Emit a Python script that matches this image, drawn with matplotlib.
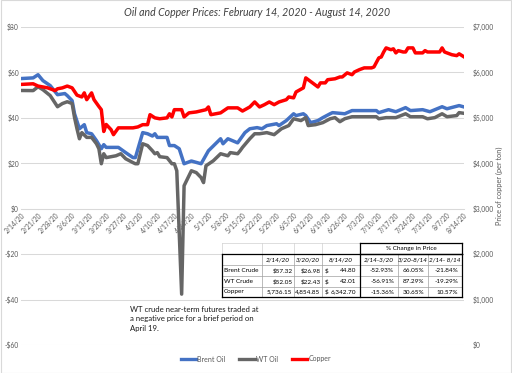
import matplotlib
matplotlib.use("Agg")
import matplotlib.pyplot as plt
from matplotlib.lines import Line2D
from matplotlib.patches import Rectangle
import pandas as pd

plt.rcParams['font.family'] = ['Lato', 'DejaVu Sans']

# Brent crude ($/bbl)
brent_dates = ["2/14", "2/19", "2/21", "2/23", "2/26", "2/29", "3/3", "3/4", "3/6", "3/7",
               "3/9", "3/11", "3/12", "3/14", "3/16", "3/18", "3/19", "3/20", "3/25", "3/28",
               "3/31", "4/1", "4/4", "4/6", "4/8", "4/9", "4/10", "4/14", "4/15", "4/17",
               "4/19", "4/21", "4/24", "4/28", "5/1", "5/6", "5/7", "5/9", "5/13", "5/16",
               "5/18", "5/21", "5/23", "5/25", "5/29", "5/30", "6/2", "6/5", "6/6", "6/9",
               "6/10", "6/12", "6/15", "6/17", "6/20", "6/21", "6/26", "6/29", "7/9", "7/10",
               "7/14", "7/17", "7/21", "7/23", "7/28", "7/31", "8/5", "8/7", "8/12", "8/14"]
brent = [57.3, 57.6, 59.0, 56.4, 54.2, 50.2, 50.7, 49.8, 47.6, 41.8,
         35.2, 37.0, 33.5, 33.0, 30.0, 26.4, 28.2, 27.0, 27.0, 24.7,
         22.5, 22.5, 33.5, 33.0, 32.0, 33.0, 31.4, 31.4, 27.8, 27.8,
         26.4, 19.8, 21.0, 19.8, 25.5, 30.8, 28.6, 30.8, 29.0, 33.5,
         35.2, 35.7, 35.2, 36.6, 37.4, 36.6, 38.8, 41.8, 41.0, 41.8,
         41.0, 37.9, 38.8, 40.1, 41.8, 42.3, 41.8, 43.2, 43.2, 42.3,
         43.6, 42.7, 44.5, 43.2, 43.6, 42.7, 44.9, 44.0, 45.4, 44.8]

# WT crude ($/bbl)
wti_dates = ["2/14", "2/19", "2/21", "2/23", "2/26", "2/29", "3/2", "3/4", "3/6", "3/7",
             "3/8", "3/9", "3/10", "3/12", "3/14", "3/16", "3/17", "3/18", "3/19", "3/20",
             "3/24", "3/26", "3/28", "3/31", "4/1", "4/2", "4/4", "4/6", "4/8", "4/9",
             "4/10", "4/11", "4/14", "4/16", "4/17", "4/18", "4/20", "4/21", "4/24", "4/26",
             "4/28", "4/29", "4/30", "5/3", "5/6", "5/9", "5/10", "5/13", "5/14", "5/15",
             "5/18", "5/20", "5/22", "5/25", "5/28", "5/31", "6/3", "6/5", "6/8", "6/10",
             "6/11", "6/14", "6/17", "6/20", "6/22", "6/24", "6/26", "6/29", "7/9", "7/10",
             "7/13", "7/17", "7/21", "7/23", "7/28", "7/30", "8/2", "8/5", "8/7", "8/11",
             "8/12", "8/14"]
wti = [52.05, 52.0, 53.7, 52.4, 49.8, 44.9, 46.3, 47.1, 46.3, 40.1,
       35.2, 30.8, 33.5, 31.4, 31.4, 28.6, 26.4, 19.8, 24.2, 22.5,
       23.3, 24.2, 22.0, 20.3, 19.8, 19.8, 28.6, 27.8, 25.5, 24.2,
       24.7, 22.9, 22.5, 19.8, 19.8, 16.7, -37.6, 10.1, 16.7, 15.9,
       13.7, 11.5, 18.9, 21.1, 24.2, 23.3, 24.7, 24.2, 25.5, 27.0,
       30.8, 33.0, 33.0, 33.5, 32.6, 35.2, 36.6, 39.6, 38.8, 40.1,
       36.6, 37.0, 37.9, 39.6, 40.1, 38.3, 39.6, 40.5, 40.5, 39.6,
       40.1, 40.1, 41.8, 40.5, 40.5, 39.6, 40.1, 41.8, 40.5, 41.0,
       42.3, 42.0]

# Copper ($/ton)
copper_dates = ["2/14", "2/19", "2/21", "2/23", "2/25", "2/28", "2/29", "3/2", "3/4", "3/6",
                "3/8", "3/10", "3/11", "3/12", "3/14", "3/15", "3/17", "3/18", "3/19", "3/20",
                "3/22", "3/23", "3/25", "3/28", "3/31", "4/2", "4/4", "4/6", "4/7", "4/9",
                "4/11", "4/14", "4/15", "4/16", "4/17", "4/20", "4/21", "4/23", "4/26", "4/30",
                "5/1", "5/2", "5/6", "5/9", "5/13", "5/15", "5/18", "5/20", "5/22", "5/24",
                "5/26", "5/28", "5/30", "6/2", "6/3", "6/5", "6/6", "6/9", "6/10", "6/12",
                "6/15", "6/16", "6/18", "6/19", "6/22", "6/24", "6/25", "6/27", "6/29", "6/30",
                "7/2", "7/4", "7/7", "7/8", "7/10", "7/11", "7/12", "7/13", "7/15", "7/16",
                "7/17", "7/18", "7/20", "7/21", "7/22", "7/24", "7/25", "7/28", "7/29", "7/30",
                "8/2", "8/4", "8/5", "8/6", "8/9", "8/11", "8/12", "8/14"]
copper = [5736, 5750, 5700, 5680, 5660, 5600, 5640, 5660, 5700, 5660,
          5500, 5460, 5550, 5400, 5550, 5400, 5250, 5180, 4700, 4855,
          4740, 4630, 4780, 4780, 4780, 4800, 4850, 4850, 5070, 5000,
          4980, 5000, 5090, 5020, 5180, 5180, 5020, 5110, 5130, 5180,
          5240, 5070, 5110, 5220, 5220, 5150, 5240, 5350, 5240, 5290,
          5350, 5290, 5350, 5400, 5460, 5440, 5570, 5660, 5880, 5800,
          5680, 5770, 5770, 5840, 5860, 5900, 5900, 5990, 5950, 6010,
          6060, 6100, 6100, 6120, 6320, 6340, 6450, 6540, 6500, 6520,
          6430, 6480, 6450, 6450, 6540, 6540, 6430, 6430, 6480, 6450,
          6450, 6450, 6540, 6450, 6390, 6370, 6410, 6343]

# summary table
tbl_cols = ["2/14/20", "3/20/20", "8/14/20", "2/14-3/20", "3/20-8/14", "2/14- 8/14"]
tbl_rows = ["Brent Crude", "WT Crude", "Copper"]
tbl_prices = [["$57.32", "$26.98", "44.80"],
              ["$52.05", "$22.43", "42.01"],
              ["5,736.15", "4,854.85", "6,342.70"]]
tbl_pct = [["-52.93%", "66.05%", "-21.84%"],
           ["-56.91%", "87.29%", "-19.29%"],
           ["-15.36%", "30.65%", "10.57%"]]

note = "WT crude near-term futures traded at\na negative price for a brief period on\nApril 19."


def to_dates(days):
    return pd.to_datetime(["2020/" + d for d in days])


W, H = 512, 373
fig = plt.figure(figsize=(W / 100, H / 100), dpi=100)


def fx(x):
    return x / W


def fy(y):
    return 1 - y / H


gray = '#595959'
ax = fig.add_axes([fx(21), fy(345), fx(464) - fx(21), fy(27) - fy(345)])
ax.plot(to_dates(brent_dates), brent, color='#4472C4', lw=2.5, zorder=3,
        solid_joinstyle='round')
ax.plot(to_dates(wti_dates), wti, color='#666666', lw=2.5, zorder=3,
        solid_joinstyle='round')

ax2 = ax.twinx()
ax2.plot(to_dates(copper_dates), copper, color='#FF0000', lw=2.5,
         solid_joinstyle='round')

# axis line sits at $0 (set before tick labels, it resets the ticks)
for s in ['top', 'right', 'left']:
    ax.spines[s].set_visible(False)
ax.spines['bottom'].set_position(('data', 0))
ax.spines['bottom'].set_color('#D9D9D9')
ax.spines['bottom'].set_linewidth(0.75)

ax.set_ylim(-60, 80)
ax.set_xlim(pd.Timestamp("2020-02-14"), pd.Timestamp("2020-08-14"))
ax.set_yticks(range(-60, 81, 20))
ax.set_yticklabels([("-$%d" % -v) if v < 0 else "$%d" % v for v in range(-60, 81, 20)])
ticks = pd.date_range("2020-02-14", "2020-08-14", freq="7D")
ax.set_xticks(ticks)
ax.set_xticklabels(["%d/%d/20" % (t.month, t.day) for t in ticks])
ax.tick_params(length=0, labelsize=4.9, labelcolor=gray)
ax.tick_params(axis='x', pad=2)
ax.tick_params(axis='y', pad=1.5)
for lab in ax.get_xticklabels():
    lab.set_rotation(45)
    lab.set_ha('right')
    lab.set_va('top')
    lab.set_rotation_mode('anchor')
ax.yaxis.grid(True, color='#D9D9D9', lw=0.75)
ax.set_axisbelow(True)

ax2.set_ylim(0, 7000)
ax2.set_yticks(range(0, 7001, 1000))
ax2.set_yticklabels(["${:,}".format(v) for v in range(0, 7001, 1000)])
ax2.tick_params(length=0, labelsize=4.9, labelcolor=gray, pad=6.5)
for s in ax2.spines.values():
    s.set_visible(False)
fig.text(fx(499), fy(186), "Price of copper (per ton)", rotation=90,
         ha='center', va='center', fontsize=5.3, color=gray)

fig.text(fx(257), fy(12), "Oil and Copper Prices: February 14, 2020 - August 14, 2020",
         ha='center', va='center', fontsize=7.6, style='italic', color='#404040')

# legend
handles = [Line2D([], [], color=c, lw=2.4) for c in ['#4472C4', '#666666', '#FF0000']]
fig.legend(handles, ["Brent Oil", "WT Oil", "Copper"], loc='center',
           bbox_to_anchor=(fx(256), fy(359)), ncol=3, frameon=False, fontsize=5,
           handlelength=2.2, handletextpad=0.2, columnspacing=2.0, labelcolor=gray)

# note
fig.text(fx(130), fy(306), note, ha='left', va='top', fontsize=5.6,
         linespacing=1.38, color='#1a1a1a')

# table
xe = [222, 262, 294, 322, 360, 398, 428, 462]
ye = [254, 265, 276, 287, 297]
fig.patches.append(Rectangle((fx(222), fy(297)), fx(462) - fx(222), fy(243) - fy(297),
                             transform=fig.transFigure, facecolor='white',
                             edgecolor='none', zorder=1))


def hline(x0, x1, y, color, lw):
    fig.lines.append(Line2D([fx(x0), fx(x1)], [fy(y), fy(y)], transform=fig.transFigure,
                            color=color, lw=lw, zorder=2))


def vline(x, y0, y1, color, lw):
    fig.lines.append(Line2D([fx(x), fx(x)], [fy(y0), fy(y1)], transform=fig.transFigure,
                            color=color, lw=lw, zorder=2))


hline(222, 360, 243, '#D0D0D0', 0.5)
for x in xe[:4]:
    vline(x, 243, 254, '#D0D0D0', 0.5)
for y in ye[1:-1]:
    hline(222, 462, y, '#A0A0A0', 0.5)
for x in xe[1:-1]:
    vline(x, 254, 297, '#A0A0A0', 0.5)
# outer boxes
for (x0, x1, y0, y1) in [(222, 462, 254, 297), (360, 462, 243, 254)]:
    hline(x0, x1, y0, 'black', 0.9)
    hline(x0, x1, y1, 'black', 0.9)
    vline(x0, y0, y1, 'black', 0.9)
    vline(x1, y0, y1, 'black', 0.9)
vline(360, 254, 297, 'black', 0.9)

tfs = 4.6
fig.text(fx(411), fy(248.5), "% Change in Price", ha='center', va='center', fontsize=tfs)
for j, c in enumerate(tbl_cols):
    fig.text(fx((xe[j + 1] + xe[j + 2]) / 2), fy(259.5), c, ha='center', va='center',
             fontsize=tfs, style='italic')
for i, r in enumerate(tbl_rows):
    yc = fy((ye[i + 1] + ye[i + 2]) / 2)
    fig.text(fx(224), yc, r, ha='left', va='center', fontsize=tfs)
    for j in range(2):
        fig.text(fx(xe[j + 2] - 1.5), yc, tbl_prices[i][j], ha='right', va='center',
                 fontsize=tfs)
    fig.text(fx(325), yc, "$", ha='left', va='center', fontsize=tfs)
    fig.text(fx(xe[4] - 4), yc, tbl_prices[i][2], ha='right', va='center', fontsize=tfs)
    for j in range(3):
        fig.text(fx(xe[j + 5] - 4), yc, tbl_pct[i][j], ha='right', va='center',
                 fontsize=tfs)

# chart border
fig.patches.append(Rectangle((0.001, 0.001), 0.998, 0.998, transform=fig.transFigure,
                             facecolor='none', edgecolor='#D9D9D9', lw=0.8))

fig.savefig("out.png", dpi=100)
